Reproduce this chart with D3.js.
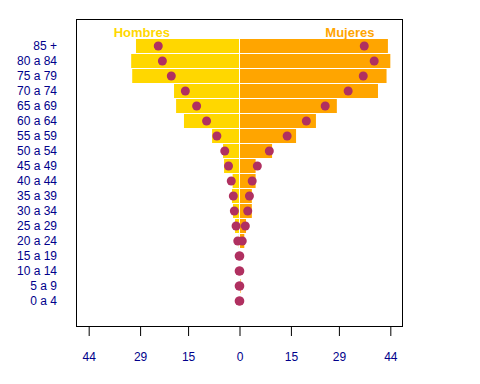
<!DOCTYPE html>
<html>
<head>
<meta charset="utf-8">
<script src="https://cdn.jsdelivr.net/npm/d3@7"></script>
<style>
  body { margin: 0; background: #fff; }
  text { font-family: "Liberation Sans", Arial, sans-serif; }
</style>
</head>
<body>
<div id="chart"></div>
<script>
// age groups, bottom to top
const ages = ["0 a 4", "5 a 9", "10 a 14", "15 a 19", "20 a 24", "25 a 29", "30 a 34",
    "35 a 39", "40 a 44", "45 a 49", "50 a 54", "55 a 59", "60 a 64", "65 a 69",
    "70 a 74", "75 a 79", "80 a 84", "85 +"];
// bars
const hombresBar = [0.1, 0.1, 0.1, 0.1, 0.2, 1.3, 1.9, 2.2, 2.0, 4.5, 4.8, 8.0, 16.2, 18.5, 19.1, 31.3, 31.6, 30.2];
const mujeresBar = [0.1, 0.3, 0.1, 0.1, 1.4, 1.9, 3.6, 3.6, 4.7, 4.7, 9.5, 16.5, 22.3, 28.4, 40.4, 42.9, 44.0, 43.3];
// points
const hombresPt = [0.1, 0.1, 0.1, 0.1, 0.5, 1.0, 1.5, 1.8, 2.4, 3.2, 4.3, 6.6, 9.6, 12.5, 15.8, 19.9, 22.5, 23.7];
const mujeresPt = [0.1, 0.1, 0.1, 0.1, 0.8, 1.7, 2.4, 2.9, 3.7, 5.2, 8.7, 13.9, 19.5, 25.0, 31.7, 36.1, 39.3, 36.4];
const tickVals = [-44, -29, -15, 0, 15, 29, 44];

const width = 480, height = 384;
const box = { left: 76.5, right: 402.5, top: 19.5, bottom: 326.5 };

const svg = d3.select("#chart")
    .append("svg")
    .attr("width", width)
    .attr("height", height);

const x = d3.scaleLinear()
    .domain([-47.7, 47.7])
    .range([76, 403]);

const y = d3.scaleBand()
    .domain(ages.slice().reverse())
    .range([38.5, 308.5])
    .paddingInner(1 / 15)
    .paddingOuter(1 / 30);

const rows = ages.map((a, i) => ({
    age: a, hb: hombresBar[i], mb: mujeresBar[i], hp: hombresPt[i], mp: mujeresPt[i]
}));

// bars
svg.selectAll(".hb")
    .data(rows)
    .join("rect")
    .attr("x", d => x(-d.hb))
    .attr("y", d => y(d.age))
    .attr("width", d => Math.max(0, x(0) - 0.5 - x(-d.hb)))
    .attr("height", y.bandwidth())
    .style("fill", "#FFD700");

svg.selectAll(".mb")
    .data(rows)
    .join("rect")
    .attr("x", x(0) + 0.5)
    .attr("y", d => y(d.age))
    .attr("width", d => Math.max(0, x(d.mb) - x(0) - 0.5))
    .attr("height", y.bandwidth())
    .style("fill", "#FFA500");

// points
svg.selectAll(".hp")
    .data(rows)
    .join("circle")
    .attr("cx", d => x(-d.hp))
    .attr("cy", d => y(d.age) + y.bandwidth() / 2)
    .attr("r", 4.5)
    .style("fill", "#B03060");

svg.selectAll(".mp")
    .data(rows)
    .join("circle")
    .attr("cx", d => x(d.mp))
    .attr("cy", d => y(d.age) + y.bandwidth() / 2)
    .attr("r", 4.5)
    .style("fill", "#B03060");

// box
svg.append("rect")
    .attr("x", box.left)
    .attr("y", box.top)
    .attr("width", box.right - box.left)
    .attr("height", box.bottom - box.top)
    .style("fill", "none")
    .style("stroke", "#000")
    .style("stroke-width", 1);

// x axis
const xAxis = svg.append("g")
    .attr("transform", "translate(0,327)")
    .call(d3.axisBottom(x)
        .tickValues(tickVals)
        .tickFormat(d => Math.abs(d))
        .tickSize(9)
        .tickPadding(16.5));
xAxis.select(".domain").remove();
xAxis.selectAll("line").attr("stroke", "#000");
xAxis.selectAll("text")
    .style("font-size", "12px")
    .style("font-family", "'Liberation Sans', Arial, sans-serif")
    .attr("fill", "#00008B");

// y labels
const yAxis = svg.append("g")
    .attr("transform", "translate(76,0)")
    .call(d3.axisLeft(y).tickSize(0).tickPadding(19));
yAxis.select(".domain").remove();
yAxis.selectAll("text")
    .style("font-size", "12px")
    .style("font-family", "'Liberation Sans', Arial, sans-serif")
    .attr("fill", "#00008B");

// headers
svg.append("text")
    .attr("x", x(-28.5))
    .attr("y", 36.7)
    .attr("text-anchor", "middle")
    .style("font-size", "13px")
    .style("font-weight", "bold")
    .style("fill", "#FFD700")
    .text("Hombres");

svg.append("text")
    .attr("x", x(32.2))
    .attr("y", 36.7)
    .attr("text-anchor", "middle")
    .style("font-size", "13px")
    .style("font-weight", "bold")
    .style("fill", "#FFA500")
    .text("Mujeres");
</script>
</body>
</html>
